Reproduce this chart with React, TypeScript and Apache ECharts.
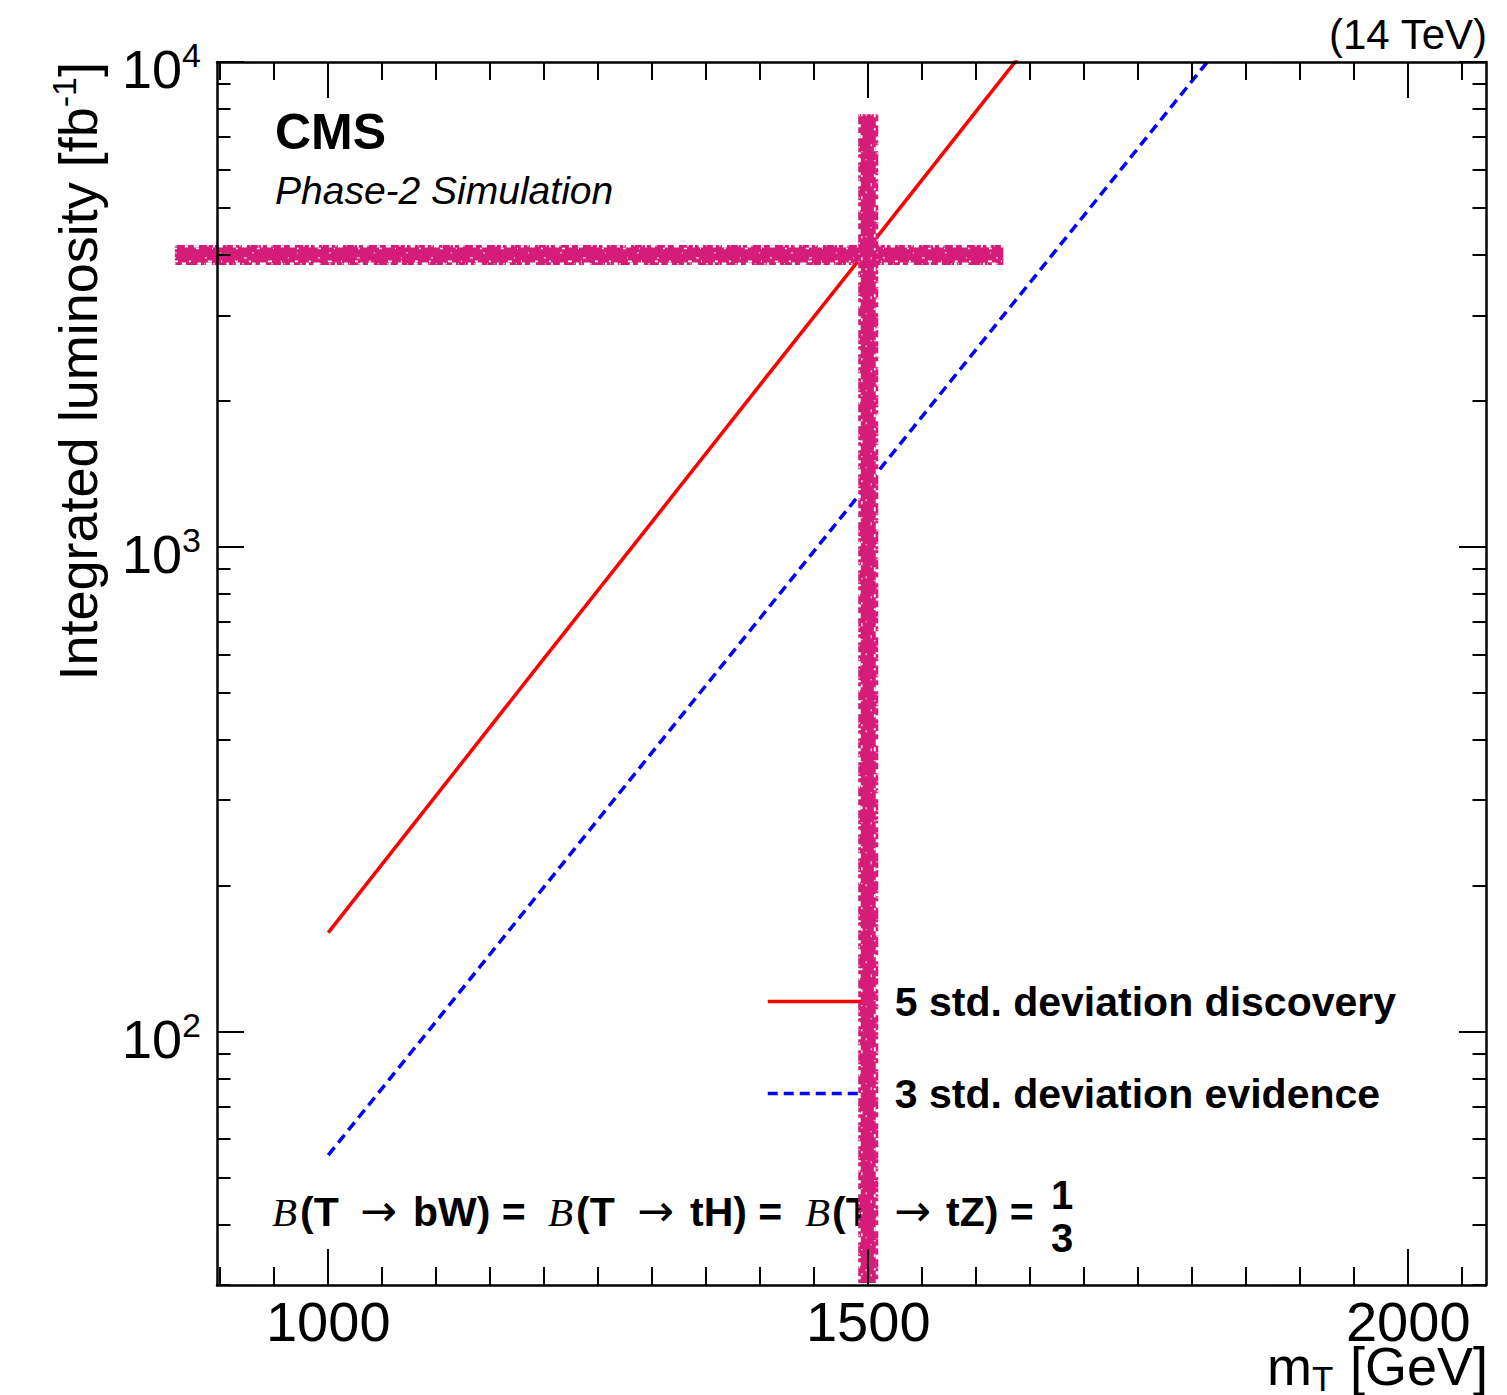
import React, { useEffect, useRef } from "react";
import * as echarts from "echarts";

// ---- data ----
const mass5 = [1000, 1100, 1200, 1300, 1400, 1500, 1600, 1700];
const lumi5 = [160, 307, 589, 1127, 2160, 4130, 7920, 15170];
const mass3 = [1000, 1100, 1200, 1300, 1400, 1500, 1600, 1700, 1800, 1900];
const lumi3 = [55.6, 105, 199, 377, 713, 1350, 2555, 4833, 9150, 17310];
const seriesNames = ["5 std. deviation discovery", "3 std. deviation evidence"];

// hand-drawn cross marking (x1, y1, x2, y2)
const crossSegments = [
  [858, 4000, 1625, 4000],
  [1500, 7800, 1500, 30.3],
];

const xMajorTicks = [1000, 1500, 2000];
const xMinorTicks = [900, 950, 1050, 1100, 1150, 1200, 1250, 1300, 1350, 1400, 1450, 1550, 1600, 1650, 1700, 1750, 1800, 1850, 1900, 1950, 2050];
const yMajorTicks = [100, 1000, 10000];
const yMinorTicks = [30, 40, 50, 60, 70, 80, 90, 200, 300, 400, 500, 600, 700, 800, 900, 2000, 3000, 4000, 5000, 6000, 7000, 8000, 9000];

const X_MIN = 897;
const X_MAX = 2072;
const Y_MIN = 30;
const Y_MAX = 10000;

const FONT = '"Liberation Sans", Arial, Helvetica, sans-serif';
const SERIF = '"Liberation Serif", "Times New Roman", serif';
const ARROW_FONT = '"DejaVu Sans", sans-serif';
const MAGENTA = "#d41c78";

function xAxisCfg(position: string, ticks: number[], len: number, main: boolean, labels: boolean) {
  return {
    type: "value",
    min: X_MIN,
    max: X_MAX,
    position,
    z: 20,
    axisLine: { show: main, onZero: false, lineStyle: { color: "#000", width: 2.5 } },
    axisTick: { show: true, inside: true, length: len, customValues: ticks, lineStyle: { color: "#000", width: 2 } },
    axisLabel: labels
      ? {
          show: true,
          customValues: ticks,
          fontSize: 56,
          lineHeight: 44,
          color: "#000",
          fontFamily: FONT,
          margin: 14,
          formatter: (v: number) => String(Math.round(v)),
        }
      : { show: false },
    splitLine: { show: false },
  };
}

function yAxisCfg(position: string, ticks: number[], len: number, main: boolean, labels: boolean) {
  return {
    type: "log",
    logBase: 10,
    min: Y_MIN,
    max: Y_MAX,
    position,
    z: 20,
    axisLine: { show: main, onZero: false, lineStyle: { color: "#000", width: 2.5 } },
    axisTick: { show: true, inside: true, length: len, customValues: ticks, lineStyle: { color: "#000", width: 2 } },
    axisLabel: labels
      ? {
          show: true,
          customValues: ticks,
          margin: 16,
          color: "#000",
          fontFamily: FONT,
          formatter: (v: number) => {
            const e = v < 6 ? Math.round(v) : Math.round(Math.log10(v));
            return `{b|10}{s|${e}}`;
          },
          rich: {
            b: { fontSize: 54, color: "#000", fontFamily: FONT, padding: [14, 0, 0, 0] },
            s: { fontSize: 34, color: "#000", fontFamily: FONT, padding: [0, 0, 14, 0] },
          },
        }
      : { show: false },
    splitLine: { show: false },
  };
}

const formulaParts = [
  { t: "B", x: 272, kind: "B" },
  { t: "(T", x: 300, kind: "bold" },
  { t: "→", x: 360, kind: "arrow" },
  { t: "bW) =", x: 413, kind: "bold" },
  { t: "B", x: 548, kind: "B" },
  { t: "(T", x: 576, kind: "bold" },
  { t: "→", x: 637, kind: "arrow" },
  { t: "tH) =", x: 690, kind: "bold" },
  { t: "B", x: 805, kind: "B" },
  { t: "(T", x: 832, kind: "bold" },
  { t: "→", x: 894, kind: "arrow" },
  { t: "tZ) =", x: 946, kind: "bold" },
];

export default function App() {
  const ref = useRef<HTMLDivElement>(null);
  useEffect(() => {
    if (!ref.current) return;
    const chart = echarts.init(ref.current, undefined, { renderer: "svg" });

    const formulaGraphics = formulaParts.map((p) => ({
      type: "text",
      x: p.x,
      y: p.kind === "arrow" ? 1210 : 1212,
      z: 5,
      style: {
        text: p.t,
        fill: "#000",
        align: "left",
        verticalAlign: "middle",
        fontFamily: p.kind === "bold" ? FONT : p.kind === "arrow" ? ARROW_FONT : SERIF,
        fontSize: p.kind === "arrow" ? 44 : 41,
        fontWeight: p.kind === "bold" ? "bold" : "normal",
        fontStyle: p.kind === "B" ? "italic" : "normal",
      },
    }));

    const option: any = {
      animation: false,
      backgroundColor: "#fff",
      textStyle: { fontFamily: FONT },
      grid: { left: 217, top: 62, width: 1269, height: 1223, containLabel: false },
      xAxis: [
        xAxisCfg("bottom", xMajorTicks, 36, true, true),
        xAxisCfg("bottom", xMinorTicks, 18, false, false),
        xAxisCfg("top", xMajorTicks, 36, true, false),
        xAxisCfg("top", xMinorTicks, 18, false, false),
      ],
      yAxis: [
        yAxisCfg("left", yMajorTicks, 27, true, true),
        yAxisCfg("left", yMinorTicks, 13.5, false, false),
        yAxisCfg("right", yMajorTicks, 27, true, false),
        yAxisCfg("right", yMinorTicks, 13.5, false, false),
      ],
      legend: {
        show: true,
        orient: "vertical",
        left: 766,
        top: 981,
        padding: 0,
        itemWidth: 94,
        itemHeight: 40,
        itemGap: 51,
        selectedMode: false,
        data: seriesNames,
        itemStyle: { opacity: 0 },
        lineStyle: { width: 3.5 },
        textStyle: { fontSize: 41, fontWeight: "bold", color: "#000", fontFamily: FONT, lineHeight: 40, padding: [0, 0, 0, 28] },
      },
      series: [
        {
          name: seriesNames[0],
          type: "line",
          xAxisIndex: 0,
          yAxisIndex: 0,
          data: mass5.map((m, i) => [m, lumi5[i]]),
          symbol: "none",
          showSymbol: false,
          lineStyle: { color: "#ff0000", width: 3.5 },
          itemStyle: { color: "#ff0000" },
          z: 3,
        },
        {
          name: seriesNames[1],
          type: "line",
          xAxisIndex: 0,
          yAxisIndex: 0,
          data: mass3.map((m, i) => [m, lumi3[i]]),
          symbol: "none",
          showSymbol: false,
          lineStyle: { color: "#0000ff", width: 3.5, type: [10, 6] },
          itemStyle: { color: "#0000ff" },
          z: 3,
        },
        {
          name: "marking",
          type: "custom",
          xAxisIndex: 0,
          yAxisIndex: 0,
          z: 10,
          clip: false,
          silent: true,
          data: crossSegments,
          encode: { x: [0, 2], y: [1, 3] },
          renderItem: (params: any, api: any) => {
            const p1 = api.coord([api.value(0), api.value(1)]);
            const p2 = api.coord([api.value(2), api.value(3)]);
            const horiz = Math.abs(p2[0] - p1[0]) > Math.abs(p2[1] - p1[1]);
            const off = (d: number) =>
              horiz
                ? [[p1[0], p1[1] + d], [p2[0], p2[1] + d]]
                : [[p1[0] + d, p1[1]], [p2[0] + d, p2[1]]];
            const pl = (d: number, stroke: string, w: number, dash: number[], op = 1) => ({
              type: "polyline",
              shape: { points: off(d) },
              style: { stroke, lineWidth: w, lineDash: dash, fill: null, opacity: op },
            });
            return {
              type: "group",
              children: [
                { type: "polyline", shape: { points: [p1, p2] }, style: { stroke: MAGENTA, lineWidth: 15, fill: null } },
                pl(8.5, MAGENTA, 3, [7, 4, 12, 3, 5, 6, 15, 2]),
                pl(-8.5, MAGENTA, 3, [10, 3, 6, 5, 14, 2, 4, 4]),
                pl(6.5, "#fff", 1.8, [3, 11, 2, 17, 4, 9, 1, 13]),
                pl(-6.5, "#fff", 1.5, [2, 19, 3, 13, 1, 23]),
                pl(3, "#fff", 1.2, [1, 29, 2, 37, 3, 41], 0.85),
                pl(-2, "#fff", 1.2, [2, 43, 1, 31], 0.75),
                pl(9, "#fff", 1.2, [1, 8, 2, 11, 1, 6], 0.9),
                pl(-9, "#fff", 1.2, [2, 9, 1, 7, 1, 12], 0.9),
              ],
            };
          },
        },
      ],
      graphic: [
        {
          type: "text",
          x: 275,
          y: 132,
          style: { text: "CMS", fill: "#000", fontFamily: FONT, fontSize: 50, fontWeight: "bold", align: "left", verticalAlign: "middle" },
        },
        {
          type: "text",
          x: 275,
          y: 190,
          style: { text: "Phase-2 Simulation", fill: "#000", fontFamily: FONT, fontSize: 39, fontStyle: "italic", align: "left", verticalAlign: "middle" },
        },
        {
          type: "text",
          x: 1487,
          y: 34,
          style: { text: "(14 TeV)", fill: "#000", fontFamily: FONT, fontSize: 42, align: "right", verticalAlign: "middle" },
        },
        {
          type: "text",
          x: 78,
          y: 62,
          rotation: Math.PI / 2,
          style: {
            text: "{n|Integrated luminosity [fb}{s|-1}{n|]}",
            align: "right",
            verticalAlign: "middle",
            rich: {
              n: { fontSize: 54, fill: "#000", fontFamily: FONT },
              s: { fontSize: 34, fill: "#000", fontFamily: FONT, padding: [0, 0, 28, 0] },
            },
          },
        },
        {
          type: "text",
          x: 1267,
          y: 1366,
          style: { text: "m", fill: "#000", fontFamily: FONT, fontSize: 54, lineHeight: 36, align: "left", verticalAlign: "middle" },
        },
        {
          type: "text",
          x: 1312,
          y: 1378,
          style: { text: "T", fill: "#000", fontFamily: FONT, fontSize: 35, lineHeight: 22, align: "left", verticalAlign: "middle" },
        },
        {
          type: "text",
          x: 1488,
          y: 1366,
          style: { text: "[GeV]", fill: "#000", fontFamily: FONT, fontSize: 54, lineHeight: 36, align: "right", verticalAlign: "middle" },
        },
        ...formulaGraphics,
        {
          type: "text",
          x: 1062,
          y: 1195,
          style: { text: "1", fill: "#000", fontFamily: FONT, fontSize: 40, lineHeight: 38, fontWeight: "bold", align: "center", verticalAlign: "middle" },
        },
        {
          type: "text",
          x: 1062,
          y: 1238,
          style: { text: "3", fill: "#000", fontFamily: FONT, fontSize: 40, lineHeight: 38, fontWeight: "bold", align: "center", verticalAlign: "middle" },
        },
      ],
    };

    chart.setOption(option);
    return () => chart.dispose();
  }, []);

  return <div ref={ref} style={{ position: "fixed", left: 0, top: 0, width: 1507, height: 1395, background: "#fff" }} />;
}
